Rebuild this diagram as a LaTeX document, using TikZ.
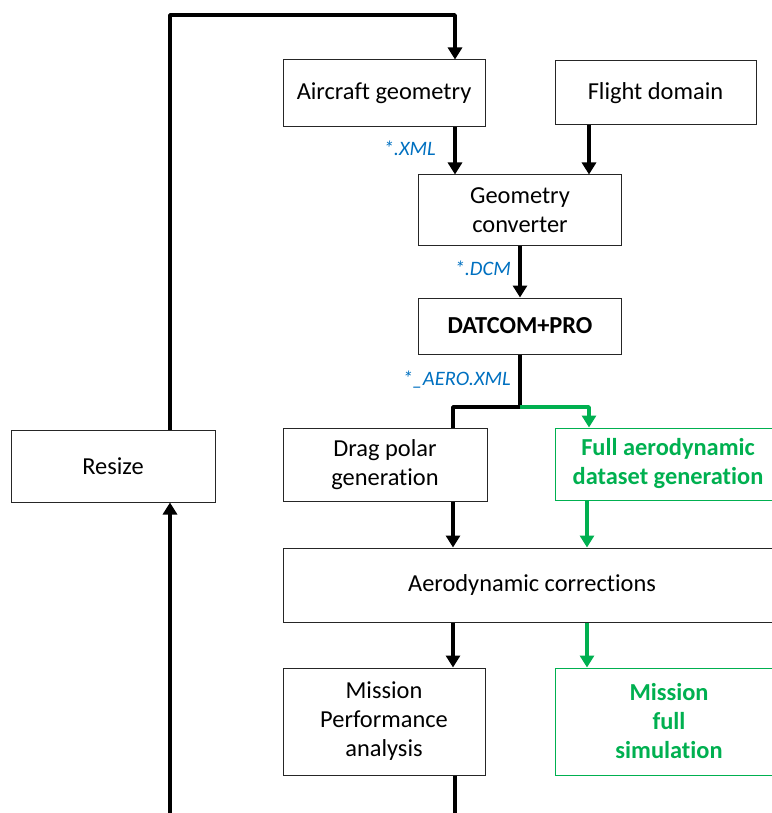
\documentclass[tikz,border=0pt]{standalone}
\usepackage{fontspec}
\setmainfont{Carlito}[Ligatures=NoCommon]
\usetikzlibrary{arrows.meta}
\definecolor{fileblue}{RGB}{0,112,192}
\definecolor{fullgreen}{RGB}{0,176,80}
\tikzset{
  block/.style={draw=black!85, line width=1pt, inner sep=0pt, align=center,
    font=\fontsize{24.4}{29}\selectfont},
  fullblock/.style={block, draw=fullgreen, text=fullgreen, font=\fontsize{24.4}{29}\selectfont\bfseries},
  flow/.style={line width=3.8pt, line join=round},
  gflow/.style={flow, draw=fullgreen},
  filetag/.style={text=fileblue, font=\fontsize{20.5}{24}\itshape, inner sep=0pt, anchor=east}
}
\begin{document}
\begin{tikzpicture}[x=1pt, y=-1pt, >={Triangle[length=12pt,width=14pt]}]
	% Fix the page to the reference size
	\useasboundingbox (0,0) rectangle (771,813);
	
	% Blocks
	\node[block, minimum width=202pt, minimum height=67pt] (aircraft) at (384,93.5) {Aircraft geometry};
	\node[block, minimum width=201pt, minimum height=64pt] (domain) at (655.5,93) {Flight domain};
	\node[block, minimum width=203pt, minimum height=70pt] (conv) at (520,210) {Geometry\\converter};
	\node[block, minimum width=203pt, minimum height=56pt, font=\fontsize{24.4}{29}\selectfont\bfseries] (datcom) at (520,326) {DATCOM+PRO};
	\node[block, minimum width=204pt, minimum height=72pt] (resize) at (113,466) {Resize};
	\node[block, minimum width=204pt, minimum height=73pt] (drag) at (385,464.5) {Drag polar\\generation};
	\node[fullblock, minimum width=226pt, minimum height=72pt] (full) at (668,464) {Full aerodynamic\\dataset generation};
	\node[block, minimum width=498pt, minimum height=74pt] (corr) at (532,585) {Aerodynamic corrections};
	\node[block, minimum width=202pt, minimum height=107pt] (mperf) at (384,721.5) {Mission\\Performance\\analysis};
	\node[fullblock, minimum width=228pt, minimum height=107pt] (mfull) at (669,721.5) {Mission\\full\\simulation};
	
	% Helper points
	\coordinate (loop) at (300,15);
	\coordinate (split) at (520,407);
	\coordinate (offl) at (170,830);
	\coordinate (offr) at (455,830);
	
	% Connectors
	\draw[flow,->] ([xshift=57pt]resize.north) |- (loop) -| ([xshift=71pt]aircraft.north);
	\draw[flow,->] (offl) -- ([xshift=57pt]resize.south);
	\draw[flow,->] ([xshift=71pt]aircraft.south) -- ([xshift=-65pt]conv.north);
	\draw[flow,->] ([xshift=-66.5pt]domain.south) -- ([xshift=69pt]conv.north);
	\draw[flow,->] (conv.south) -- (datcom.north);
	\draw[flow] (datcom.south) -- (split) -| ([xshift=68pt]drag.north);
	\draw[gflow,->] (split) -| ([xshift=-79pt]full.north);
	\draw[flow,->] ([xshift=68pt]drag.south) -- ([xshift=-79pt]corr.north);
	\draw[gflow,->] ([xshift=-81pt]full.south) -- ([xshift=55pt]corr.north);
	\draw[flow,->] ([xshift=-79pt]corr.south) -- ([xshift=69pt]mperf.north);
	\draw[gflow,->] ([xshift=55pt]corr.south) -- ([xshift=-82pt]mfull.north);
	\draw[flow] ([xshift=71pt]mperf.south) -- (offr);
	
	% File tags
	\node[filetag] (xml) at (436,148) {*.XML};
	\node[filetag] (dcm) at (511,268) {*.DCM};
	\node[filetag] (aero) at (511,380) {*\_AERO.XML};
\end{tikzpicture}
\end{document}
